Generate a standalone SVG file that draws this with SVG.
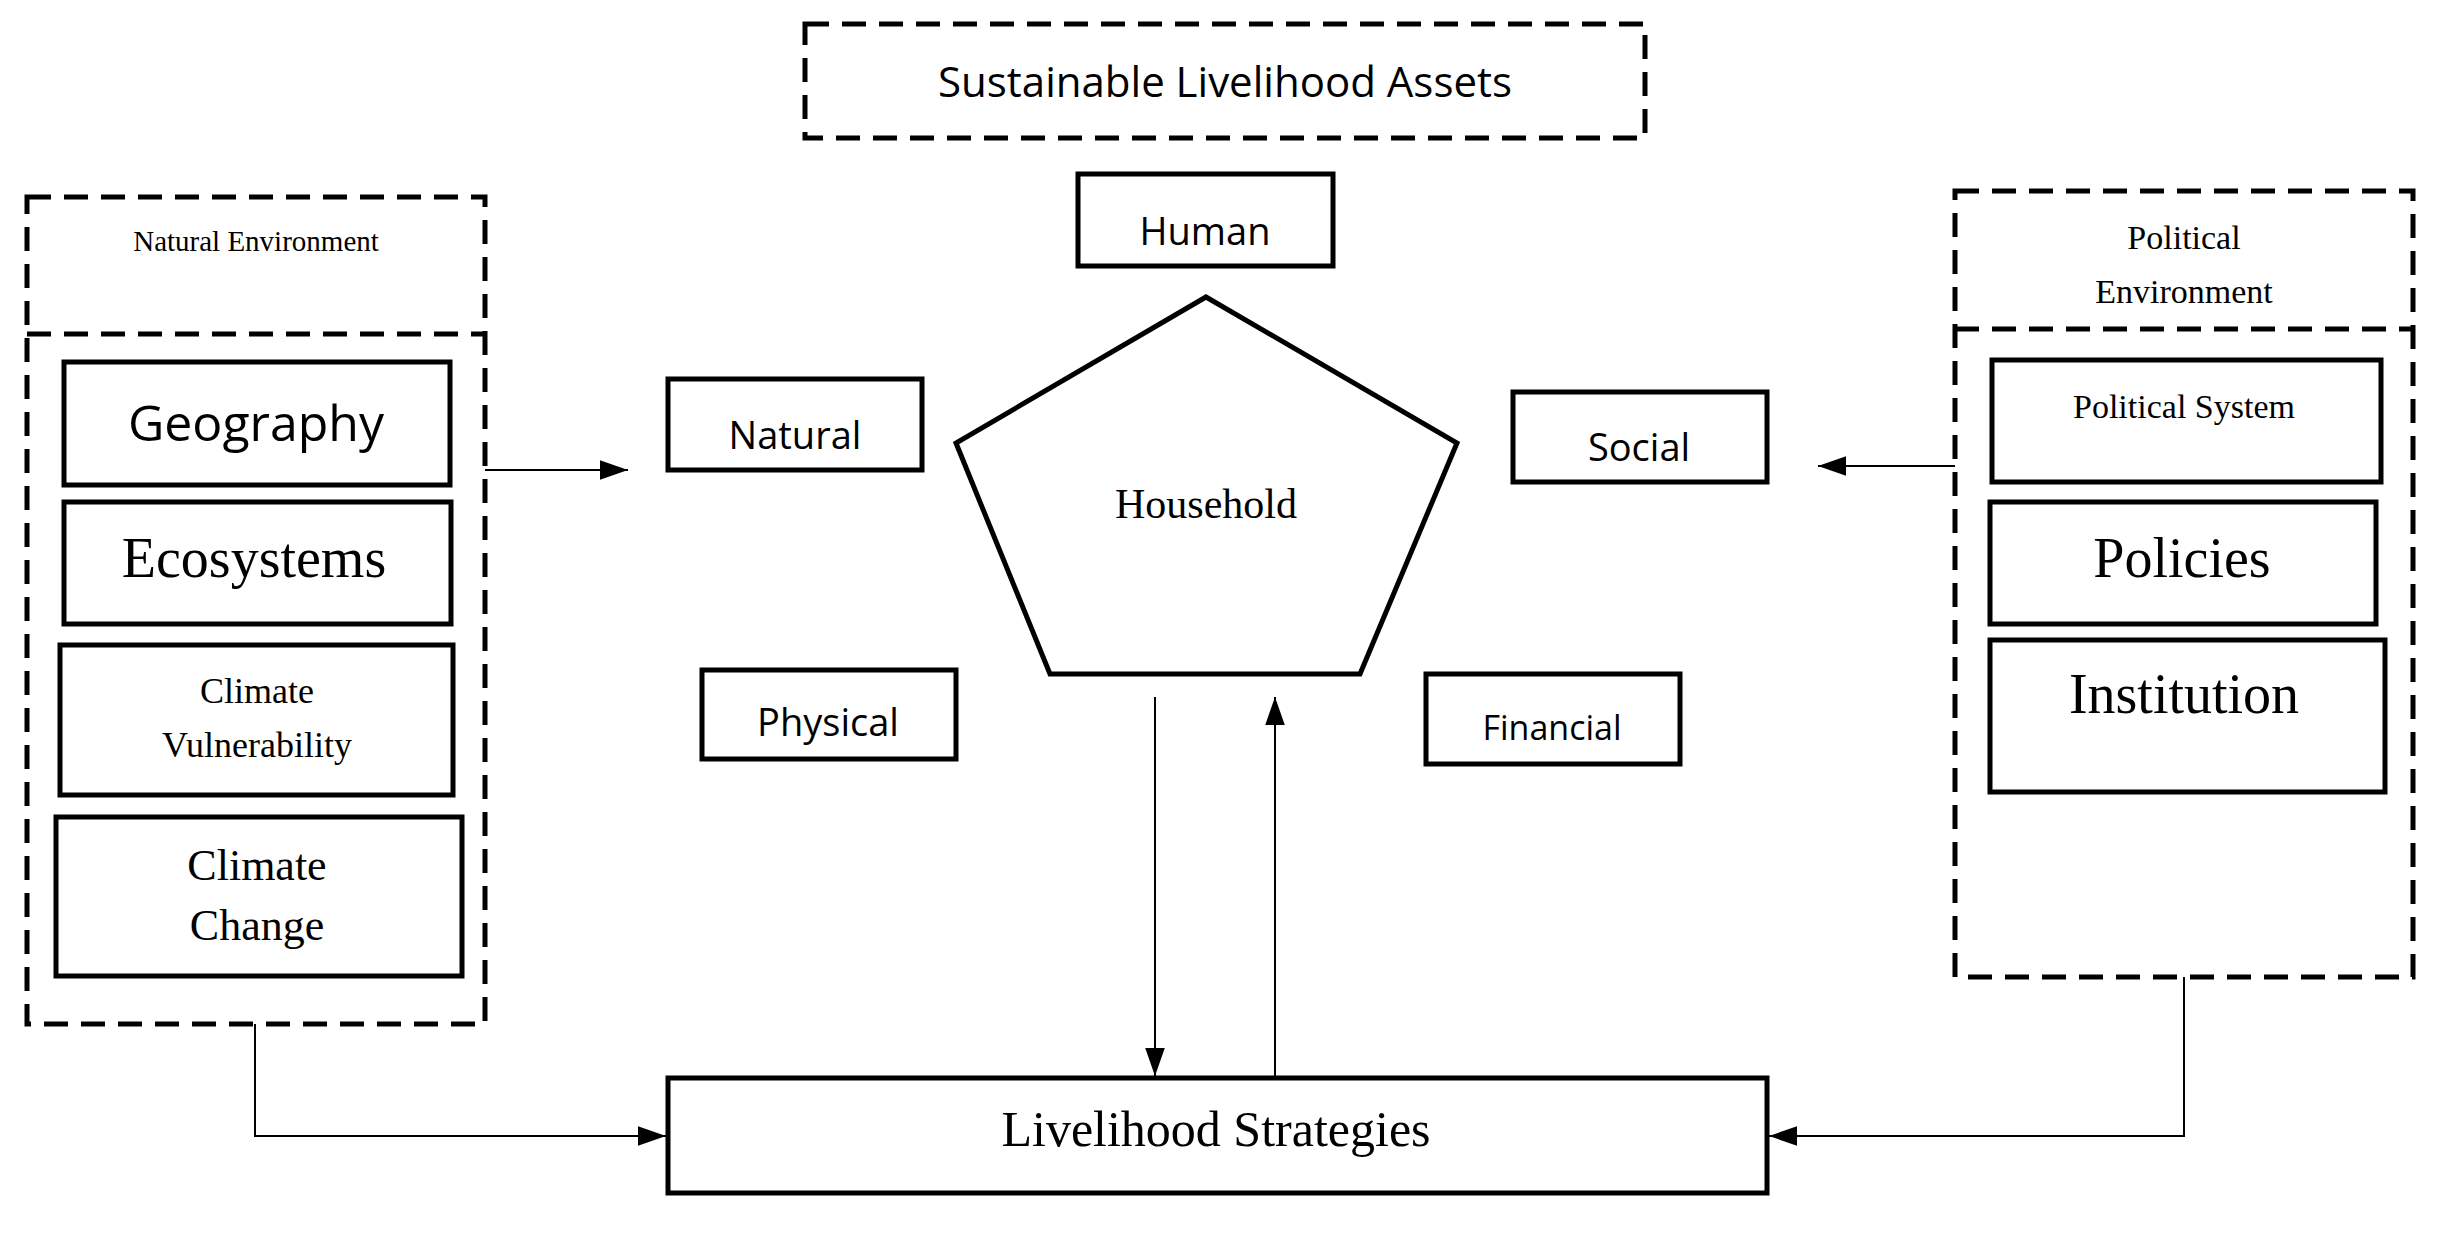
<svg xmlns="http://www.w3.org/2000/svg" width="2437" height="1236" viewBox="0 0 2437 1236">
<style>
.b{fill:#fff;stroke:#000;stroke-width:5}
.d{fill:none;stroke:#000;stroke-width:5;stroke-dasharray:24 13}
.s{font-family:"Open Sans","Liberation Sans",sans-serif;text-anchor:middle;fill:#000}
.r{font-family:"Liberation Serif",serif;text-anchor:middle;fill:#000}
.c{fill:none;stroke:#000;stroke-width:2}
</style>
<defs><marker id="a" viewBox="0 0 10 10" refX="10" refY="5" markerWidth="11" markerHeight="11" markerUnits="userSpaceOnUse" orient="auto"><path d="M0,0L10,5L0,10z"/></marker>
<marker id="A" viewBox="0 0 10 10" refX="10" refY="5" markerWidth="28" markerHeight="28" markerUnits="userSpaceOnUse" orient="auto"><path d="M0,1.5L10,5L0,8.5z"/></marker></defs>
<rect width="2437" height="1236" fill="#fff"/>
<g id="title"><rect class="d" x="805" y="24" width="840" height="114"/><text class="s" x="1225" y="97" font-size="42">Sustainable Livelihood Assets</text></g>
<g id="natenv"><rect class="d" x="27" y="197" width="458" height="827"/><path class="d" d="M27,334H485"/><text class="r" x="256" y="251" font-size="29">Natural Environment</text></g>
<g id="geo"><rect class="b" x="64" y="362" width="386" height="123"/><text class="s" x="256" y="441" font-size="50">Geography</text></g>
<g id="eco"><rect class="b" x="64" y="502" width="387" height="122"/><text class="r" x="254" y="577" font-size="56">Ecosystems</text></g>
<g id="cv"><rect class="b" x="60" y="645" width="393" height="150"/><text class="r" x="257" y="703" font-size="36">Climate</text><text class="r" x="257" y="757" font-size="36">Vulnerability</text></g>
<g id="cc"><rect class="b" x="56" y="817" width="406" height="159"/><text class="r" x="257" y="880" font-size="44">Climate</text><text class="r" x="257" y="940" font-size="44">Change</text></g>
<g id="natural"><rect class="b" x="668" y="379" width="254" height="91"/><text class="s" x="795" y="449" font-size="38">Natural</text></g>
<g id="physical"><rect class="b" x="702" y="670" width="254" height="89"/><text class="s" x="828" y="736" font-size="38">Physical</text></g>
<g id="human"><rect class="b" x="1078" y="174" width="255" height="92"/><text class="s" x="1205" y="245" font-size="38">Human</text></g>
<g id="household"><polygon class="b" points="1206,297 1457,443 1360,674 1050,674 956,443"/><text class="r" x="1206" y="518" font-size="42">Household</text></g>
<g id="social"><rect class="b" x="1513" y="392" width="254" height="90"/><text class="s" x="1639" y="461" font-size="38">Social</text></g>
<g id="financial"><rect class="b" x="1426" y="674" width="254" height="90"/><text class="s" x="1552" y="740" font-size="34">Financial</text></g>
<g id="polenv"><rect class="d" x="1955" y="191" width="458" height="786"/><path class="d" d="M1955,329H2413"/><text class="r" x="2184" y="249" font-size="34">Political</text><text class="r" x="2184" y="303" font-size="34">Environment</text></g>
<g id="polsys"><rect class="b" x="1992" y="360" width="389" height="122"/><text class="r" x="2184" y="418" font-size="34">Political System</text></g>
<g id="policies"><rect class="b" x="1990" y="502" width="386" height="122"/><text class="r" x="2182" y="577" font-size="56">Policies</text></g>
<g id="institution"><rect class="b" x="1990" y="640" width="395" height="152"/><text class="r" x="2184" y="713" font-size="56">Institution</text></g>
<g id="strategies"><rect class="b" x="668" y="1078" width="1099" height="115"/><text class="r" x="1216" y="1146" font-size="50">Livelihood Strategies</text></g>
<g id="connectors">
<path class="c" d="M485,470H628" marker-end="url(#A)"/>
<path class="c" d="M1955,466H1818" marker-end="url(#A)"/>
<path class="c" d="M1155,697V1076" marker-end="url(#A)"/>
<path class="c" d="M1275,1076V697" marker-end="url(#A)"/>
<path class="c" d="M255,1024V1136H666" marker-end="url(#A)"/>
<path class="c" d="M2184,977V1136H1769" marker-end="url(#A)"/>
</g>
</svg>
